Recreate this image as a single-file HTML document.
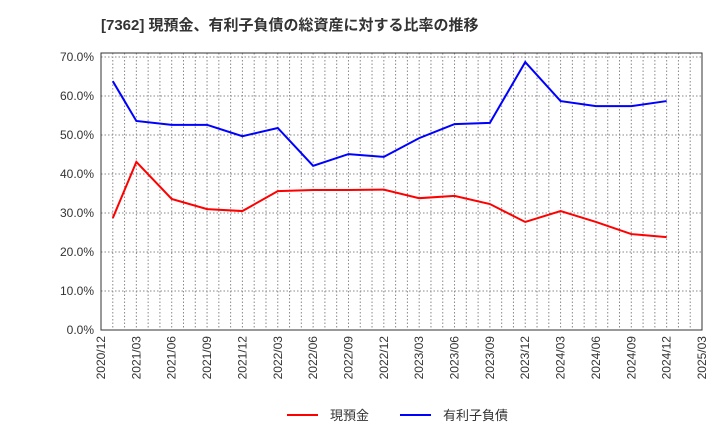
<!DOCTYPE html>
<html><head><meta charset="utf-8"><style>
body{margin:0;background:#fff;font-family:"Liberation Sans","Noto Sans CJK JP",sans-serif}
svg text{font-family:"Liberation Sans","Noto Sans CJK JP",sans-serif}
</style></head><body>
<svg id="chart" width="720" height="440" xmlns="http://www.w3.org/2000/svg">
<text x="101" y="30" font-size="15" font-weight="bold" fill="#333">[7362]  現預金、有利子負債の総資産に対する比率の推移</text>
<g id="grid"></g><g id="axes"></g><g id="series"></g>
<g>
<line x1="287" y1="415" x2="318" y2="415" stroke="#f00" stroke-width="2"/>
<text x="330" y="420" font-size="13" fill="#333">現預金</text>
<line x1="400" y1="415" x2="431" y2="415" stroke="#00f" stroke-width="2"/>
<text x="443" y="420" font-size="13" fill="#333">有利子負債</text>
</g>
</svg>
<script>
const monthIdx=[1,3,6,9,12,15,18,21,24,27,30,33,36,39,42,45,48];
const cash=[28.7,43.1,33.6,31.0,30.5,35.6,35.9,35.9,36.0,33.8,34.4,32.3,27.7,30.5,27.7,24.6,23.8];
const debt=[63.8,53.6,52.6,52.6,49.7,51.8,42.1,45.1,44.4,49.2,52.8,53.1,68.7,58.7,57.4,57.4,58.7];
const yTicks=[0,10,20,30,40,50,60,70];
const xLabels=["2020/12","2021/03","2021/06","2021/09","2021/12","2022/03","2022/06","2022/09","2022/12","2023/03","2023/06","2023/09","2023/12","2024/03","2024/06","2024/09","2024/12","2025/03"];
const L=101,R=702,T=53,B=330,NM=51;
const x=m=>L+(R-L)*m/NM;
const y=v=>B-v*3.9;
const ns="http://www.w3.org/2000/svg";
function mk(p,t,a){const e=document.createElementNS(ns,t);for(const k in a)e.setAttribute(k,a[k]);p.appendChild(e);return e;}
const g=document.getElementById('grid'),ax=document.getElementById('axes'),s=document.getElementById('series');
for(let m=1;m<NM;m++){const l=mk(g,'line',{x1:x(m),x2:x(m),y1:T,y2:B,stroke:'#888','stroke-dasharray':'1.5,2','stroke-width':1});

}
yTicks.forEach(v=>{if(v>0){const l=mk(g,'line',{x1:L,x2:R,y1:y(v),y2:y(v),stroke:'#888','stroke-dasharray':'1.5,2','stroke-width':1});

}
const t=mk(ax,'text',{x:L-7,y:y(v)+4,'font-size':12,fill:'#333','text-anchor':'end'});t.textContent=v.toFixed(1)+'%';

});
const fr=mk(ax,'rect',{x:L,y:T,width:R-L,height:B-T,fill:'none',stroke:'#333','stroke-width':1});


xLabels.forEach((lb,i)=>{const xx=x(i*3);const t=mk(ax,'text',{x:xx+4,y:B+6,'font-size':12,fill:'#333','text-anchor':'end',transform:`rotate(-90 ${xx+4} ${B+6})`});t.textContent=lb;

});
function line(d,c,n){const p=mk(s,'polyline',{points:d.map((v,i)=>x(monthIdx[i])+','+y(v)).join(' '),fill:'none',stroke:c,'stroke-width':2});

}
line(cash,'#f00','cash-line');line(debt,'#00f','debt-line');
</script>
</body></html>
